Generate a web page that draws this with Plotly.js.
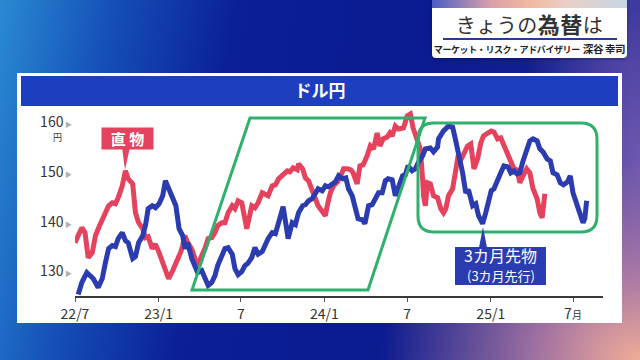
<!DOCTYPE html>
<html>
<head>
<meta charset="utf-8">
<script src="https://cdn.plot.ly/plotly-3.0.1.min.js"></script>
<style>
  html, body { margin:0; padding:0; width:640px; height:360px; overflow:hidden; }
  body {
    font-family: "Noto Sans CJK JP", "Noto Sans", sans-serif;
    background:
      radial-gradient(ellipse 260px 200px at 100% 100%, rgba(240,172,150,1) 0%, rgba(205,140,165,0.75) 40%, rgba(120,90,170,0) 100%),
      radial-gradient(ellipse 120px 260px at 100% 45%, rgba(130,100,180,0.8) 0%, rgba(80,70,170,0) 100%),
      linear-gradient(100deg, #2a8ad2 0%, #1550b8 16%, #0b1f98 34%, #0a1a90 60%, #14208f 80%, #2a2c9c 100%);
    position: relative;
  }
  #chart { position:absolute; left:0; top:0; width:640px; height:360px; }
  #card {
    position:absolute; left:432px; top:0; width:195px; height:58px;
    background:#fff; border-radius:0 0 4px 4px; overflow:hidden;
    box-shadow: 0 1px 3px rgba(0,0,30,0.4);
  }
  #card .strip { position:absolute; left:0; top:0; width:100%; height:8px;
    background: linear-gradient(90deg, #4a5fc4 0%, #d8a0a8 30%, #f2b8a0 50%, #e8d0c8 70%, #c6d6e4 100%); }
  #card .main { position:absolute; left:0; top:10px; width:100%; text-align:center;
    font-size:20px; color:#333; line-height:26px; letter-spacing:0.5px; }
  #card .main b { font-size:22px; font-weight:700; color:#333; }
  #card .rule { position:absolute; left:11px; top:38px; width:174px; height:2px; background:#2b3a96; }
  #card .sub { position:absolute; left:0; top:41px; width:100%; text-align:center;
    font-size:9px; font-weight:700; color:#222; line-height:15px; letter-spacing:-0.4px; }
  #card .sub span { font-size:10.5px; margin-left:3px; }
</style>
</head>
<body>
<div id="chart"></div>
<div id="card">
  <div class="strip"></div>
  <div class="main">きょうの<b>為替</b>は</div>
  <div class="rule"></div>
  <div class="sub">マーケット・リスク・アドバイザリー<span>深谷 幸司</span></div>
</div>
<script>
// ---- Data ----
const spotDates = [
 "2022-07-01","2022-07-08","2022-07-16","2022-07-23","2022-07-30","2022-08-08","2022-08-15","2022-08-23","2022-08-30",
 "2022-09-06","2022-09-13","2022-09-21","2022-09-28","2022-10-04","2022-10-13","2022-10-20","2022-10-26","2022-11-05",
 "2022-11-11","2022-11-18","2022-11-27","2022-12-03","2022-12-09","2022-12-18","2022-12-25","2023-01-02","2023-01-10",
 "2023-01-16","2023-01-23","2023-02-01","2023-02-08","2023-02-12","2023-02-19","2023-02-23","2023-02-28","2023-03-06",
 "2023-03-15","2023-03-22","2023-03-28","2023-04-06","2023-04-13","2023-04-20","2023-04-28","2023-05-05","2023-05-11",
 "2023-05-20","2023-05-27","2023-06-03","2023-06-12","2023-06-18","2023-06-25","2023-07-03","2023-07-10","2023-07-14",
 "2023-07-21","2023-07-25","2023-08-01","2023-08-08","2023-08-17","2023-08-23","2023-08-30","2023-09-08","2023-09-15",
 "2023-09-22","2023-09-30","2023-10-06","2023-10-11","2023-10-17","2023-10-24","2023-11-02","2023-11-05","2023-11-14",
 "2023-11-20","2023-11-27","2023-12-05","2023-12-12","2023-12-18","2023-12-27","2024-01-03","2024-01-08","2024-01-14",
 "2024-01-21","2024-01-30","2024-02-06","2024-02-12","2024-02-21","2024-02-28","2024-03-04","2024-03-13","2024-03-19",
 "2024-03-26","2024-04-04","2024-04-11","2024-04-18","2024-04-26","2024-05-02","2024-05-09","2024-05-18","2024-05-24",
 "2024-05-29","2024-06-05","2024-06-12","2024-06-23","2024-07-01","2024-07-08","2024-07-14","2024-07-23","2024-07-30",
 "2024-08-04","2024-08-06","2024-08-10","2024-08-15","2024-08-21","2024-08-28","2024-09-06","2024-09-13","2024-09-19",
 "2024-09-24","2024-09-30","2024-10-09","2024-10-15","2024-10-20","2024-10-26","2024-11-02","2024-11-11","2024-11-18",
 "2024-11-25","2024-12-03","2024-12-10","2024-12-16","2024-12-25","2025-01-02","2025-01-08","2025-01-16","2025-01-23",
 "2025-01-30","2025-02-08","2025-02-14","2025-02-21","2025-02-28","2025-03-06","2025-03-13","2025-03-21","2025-03-28",
 "2025-04-04","2025-04-13","2025-04-19","2025-04-24","2025-04-26","2025-04-30"
];
const spotValues = [
 135.8,137.0,138.8,137.8,132.8,133.8,137.2,139.0,140.6,
 142.0,143.2,143.8,143.6,144.8,147.2,150.2,148.6,147.6,
 141.8,139.8,138.6,136.8,137.0,134.6,135.5,133.8,131.6,
 129.8,128.6,130.2,131.5,132.6,134.0,135.2,137.2,135.8,
 134.5,132.6,131.2,133.2,134.6,136.6,136.8,137.8,139.2,
 139.8,139.8,141.8,143.2,142.6,144.2,143.8,140.6,138.6,
 141.5,143.2,142.8,143.8,145.8,145.6,145.2,147.2,147.4,
 148.6,149.2,149.6,150.2,150.0,150.8,150.4,151.6,150.6,
 148.8,148.2,146.6,144.6,143.2,141.8,141.2,143.6,145.8,
 147.2,148.0,149.2,150.6,150.6,150.4,149.8,147.6,151.2,
 151.4,153.2,155.2,154.6,157.8,155.2,156.6,157.0,157.8,
 157.2,159.2,158.6,158.8,161.2,161.6,158.8,156.6,154.6,
 148.6,145.2,143.2,147.8,147.6,145.2,144.8,142.6,141.8,
 142.6,145.2,146.6,149.8,152.6,152.2,153.8,155.2,155.6,
 150.6,152.6,155.8,157.2,157.8,158.2,158.0,156.6,156.8,
 155.2,153.2,151.8,150.6,150.4,147.8,149.2,150.6,149.8,
 146.6,144.6,141.8,140.8,142.5,145.6
];
const fwdDates = [
 "2022-07-08","2022-07-16","2022-07-27","2022-08-04","2022-08-10","2022-08-21","2022-08-30","2022-09-06","2022-09-13",
 "2022-09-21","2022-09-28","2022-10-04","2022-10-13","2022-10-20","2022-10-26","2022-11-05","2022-11-11","2022-11-18",
 "2022-11-27","2022-12-03","2022-12-09","2022-12-18","2022-12-25","2023-01-02","2023-01-10","2023-01-16","2023-01-23",
 "2023-02-01","2023-02-08","2023-02-15","2023-02-23","2023-02-28","2023-03-06","2023-03-15","2023-03-22","2023-03-28",
 "2023-04-06","2023-04-13","2023-04-20","2023-04-28","2023-05-05","2023-05-11","2023-05-20","2023-05-27","2023-06-03",
 "2023-06-12","2023-06-18","2023-06-25","2023-07-03","2023-07-10","2023-07-16","2023-07-25","2023-08-01","2023-08-08",
 "2023-08-17","2023-08-23","2023-08-30","2023-09-08","2023-09-15","2023-09-22","2023-09-30","2023-10-02","2023-10-09",
 "2023-10-13","2023-10-22","2023-10-29","2023-11-05","2023-11-14","2023-11-20","2023-11-27","2023-12-05","2023-12-12",
 "2023-12-18","2023-12-27","2024-01-03","2024-01-10","2024-01-19","2024-01-25","2024-02-01","2024-02-10","2024-02-17",
 "2024-02-23","2024-03-02","2024-03-08","2024-03-15","2024-03-24","2024-03-30","2024-04-07","2024-04-15","2024-04-22",
 "2024-04-29","2024-05-07","2024-05-14","2024-05-20","2024-05-29","2024-06-05","2024-06-12","2024-06-21","2024-06-27",
 "2024-07-03","2024-07-12","2024-07-19","2024-07-25","2024-08-04","2024-08-10","2024-08-21","2024-08-28","2024-09-06",
 "2024-09-08","2024-09-19","2024-09-30","2024-10-09","2024-10-15","2024-10-22","2024-10-31","2024-11-07","2024-11-13",
 "2024-11-22","2024-11-29","2024-12-05","2024-12-14","2024-12-21","2024-12-27","2025-01-02","2025-01-08","2025-01-16",
 "2025-01-23","2025-01-30","2025-02-08","2025-02-14","2025-02-21","2025-02-28","2025-03-06","2025-03-13","2025-03-21",
 "2025-03-28","2025-04-04","2025-04-13","2025-04-19","2025-04-26","2025-05-05","2025-05-12","2025-05-18","2025-05-27",
 "2025-06-03","2025-06-10","2025-06-19","2025-06-25","2025-07-01","2025-07-10","2025-07-16","2025-07-23","2025-07-27",
 "2025-07-31"
];
const fwdValues = [
 125.4,127.8,129.8,129.2,128.6,126.8,128.6,131.8,134.6,
 135.2,135.0,136.6,137.8,136.2,135.8,132.6,133.0,135.8,
 137.2,139.2,142.6,143.2,142.8,143.6,145.2,148.2,146.6,
 145.2,143.2,138.6,137.2,134.6,135.8,132.6,131.2,129.8,
 130.2,128.6,127.2,127.8,129.2,131.2,133.2,134.6,134.8,
 133.5,130.6,129.4,130.0,131.2,131.6,132.8,134.8,133.5,
 134.0,135.2,136.6,137.8,137.6,139.8,142.6,143.0,139.0,
 136.6,139.8,139.4,141.8,143.2,143.4,144.2,144.6,145.6,
 146.6,146.2,147.2,147.0,147.8,148.0,149.2,148.6,148.8,
 146.6,145.2,143.2,140.6,140.4,139.6,143.2,143.4,144.6,
 145.8,145.8,148.2,148.6,148.4,145.2,146.8,149.2,149.4,
 151.2,150.2,150.6,151.8,153.2,154.6,154.8,154.0,155.0,
 156.6,158.2,159.2,159.0,156.6,153.8,149.8,145.8,146.4,
 143.2,143.6,141.2,139.6,141.8,144.0,146.2,146.6,148.6,
 149.8,151.2,151.0,149.8,150.2,149.6,149.8,152.2,154.6,
 156.2,156.6,156.2,154.6,154.0,152.6,152.2,149.8,149.4,
 147.8,147.4,148.0,149.2,145.8,143.2,141.8,139.8,140.6,
 144.2
];
const xTickVals = ["2022-07-01","2023-01-01","2023-07-01","2024-01-01","2024-07-01","2025-01-01","2025-07-01"];
const xTickText = ["22/7","23/1","7","24/1","7","25/1","7<span style='font-size:10px'>月</span>"];
const yTickVals = [130,140,150,160];
const yTickText = yTickVals.map(v => v + "<span style='font-size:7px;color:#b0b0b0'> ▶</span>");

const RED = "#e5425d", BLUE = "#2b3bb0", GREEN = "#2fb06c";

const traces = [
  { x: spotDates, y: spotValues, type: "scatter", mode: "lines", name: "直物",
    line: { color: RED, width: 5 }, hoverinfo: "skip" },
  { x: fwdDates, y: fwdValues, type: "scatter", mode: "lines", name: "3カ月先物",
    line: { color: BLUE, width: 5 }, hoverinfo: "skip" }
];

const rr = { x0:0.6496, x1:0.9886, y0:0.3422, y1:0.9251, rx:0.0303, ry:0.0856 };
const rrPath = `M${rr.x0+rr.rx},${rr.y1} L${rr.x1-rr.rx},${rr.y1} Q${rr.x1},${rr.y1} ${rr.x1},${rr.y1-rr.ry} ` +
  `L${rr.x1},${rr.y0+rr.ry} Q${rr.x1},${rr.y0} ${rr.x1-rr.rx},${rr.y0} L${rr.x0+rr.rx},${rr.y0} ` +
  `Q${rr.x0},${rr.y0} ${rr.x0},${rr.y0+rr.ry} L${rr.x0},${rr.y1-rr.ry} Q${rr.x0},${rr.y1} ${rr.x0+rr.rx},${rr.y1} Z`;

const layout = {
  width: 640, height: 360,
  margin: { l: 75, r: 37, t: 109, b: 64 },
  paper_bgcolor: "rgba(0,0,0,0)",
  plot_bgcolor: "rgba(0,0,0,0)",
  showlegend: false,
  font: { family: "Noto Sans CJK JP, Noto Sans, sans-serif", color: "#333" },
  title: { text: "ドル円", x: 0.5, xanchor: "center", y: 0.747, yanchor: "middle",
           font: { size: 17, color: "#ffffff", weight: 700 } },
  xaxis: {
    type: "date", range: ["2022-07-01", "2025-09-05"],
    tickvals: xTickVals, ticktext: xTickText,
    showgrid: false, zeroline: false,
    showline: true, linecolor: "#3a3a3a", linewidth: 2,
    ticks: "outside", ticklen: 4, tickcolor: "#555", tickwidth: 1,
    tickfont: { size: 14, color: "#333" }
  },
  yaxis: {
    range: [125.1, 162.6],
    tickvals: yTickVals, ticktext: yTickText,
    showgrid: false, zeroline: false, showline: false, ticks: "",
    ticklabelstandoff: 2,
    tickfont: { size: 14, color: "#333" }
  },
  shapes: [
    { type: "rect", xref: "paper", yref: "paper", x0: -0.1098, x1: 1.036, y0: -0.1444, y1: 1.1925,
      fillcolor: "#ffffff", line: { width: 0 }, layer: "below" },
    { type: "rect", xref: "paper", yref: "paper", x0: -0.1023, x1: 1.0284, y0: 1.016, y1: 1.1765,
      fillcolor: "#1d3fbf", line: { width: 0 }, layer: "below" },
    { type: "path", xref: "paper", yref: "paper",
      path: "M0.2216,0.0321 L0.3314,0.9519 L0.6629,0.9519 L0.5549,0.0321 Z",
      line: { color: GREEN, width: 3 }, fillcolor: "rgba(0,0,0,0)" },
    { type: "path", xref: "paper", yref: "paper", path: rrPath,
      line: { color: GREEN, width: 3 }, fillcolor: "rgba(0,0,0,0)" },
    { type: "path", xref: "paper", yref: "paper",
      path: "M0.0890,0.7968 L0.1042,0.7968 L0.0947,0.6738 Z",
      fillcolor: RED, line: { width: 0 } },
    // 3カ月先物 label box and pointer
    { type: "rect", xref: "paper", yref: "paper", x0: 0.7197, x1: 0.8920, y0: 0.0588, y1: 0.2620,
      fillcolor: BLUE, line: { width: 0 } },
    { type: "path", xref: "paper", yref: "paper",
      path: "M0.7652,0.2600 L0.7803,0.2600 L0.7727,0.3690 Z",
      fillcolor: BLUE, line: { width: 0 } }
  ],
  annotations: [
    { xref: "paper", yref: "paper", x: 0.0985, y: 0.8449, xanchor: "center", yanchor: "middle",
      text: "直 物", showarrow: false,
      bgcolor: RED, width: 51, height: 21, borderpad: 0,
      font: { size: 15, color: "#ffffff", weight: 700 } },
    { xref: "paper", yref: "paper", x: 0.8059, y: 0.2193, xanchor: "center", yanchor: "middle",
      text: "3カ月先物", showarrow: false,
      font: { size: 16, color: "#ffffff" } },
    { xref: "paper", yref: "paper", x: 0.8059, y: 0.1070, xanchor: "center", yanchor: "middle",
      text: "(3カ月先行)", showarrow: false,
      font: { size: 13, color: "#ffffff" } },
    { xref: "paper", yref: "paper", x: -0.034, y: 0.850, xanchor: "center", yanchor: "middle",
      text: "円", showarrow: false,
      font: { size: 9, color: "#333" } }
  ]
};

Plotly.newPlot("chart", traces, layout, { staticPlot: true, displayModeBar: false });
</script>
</body>
</html>
